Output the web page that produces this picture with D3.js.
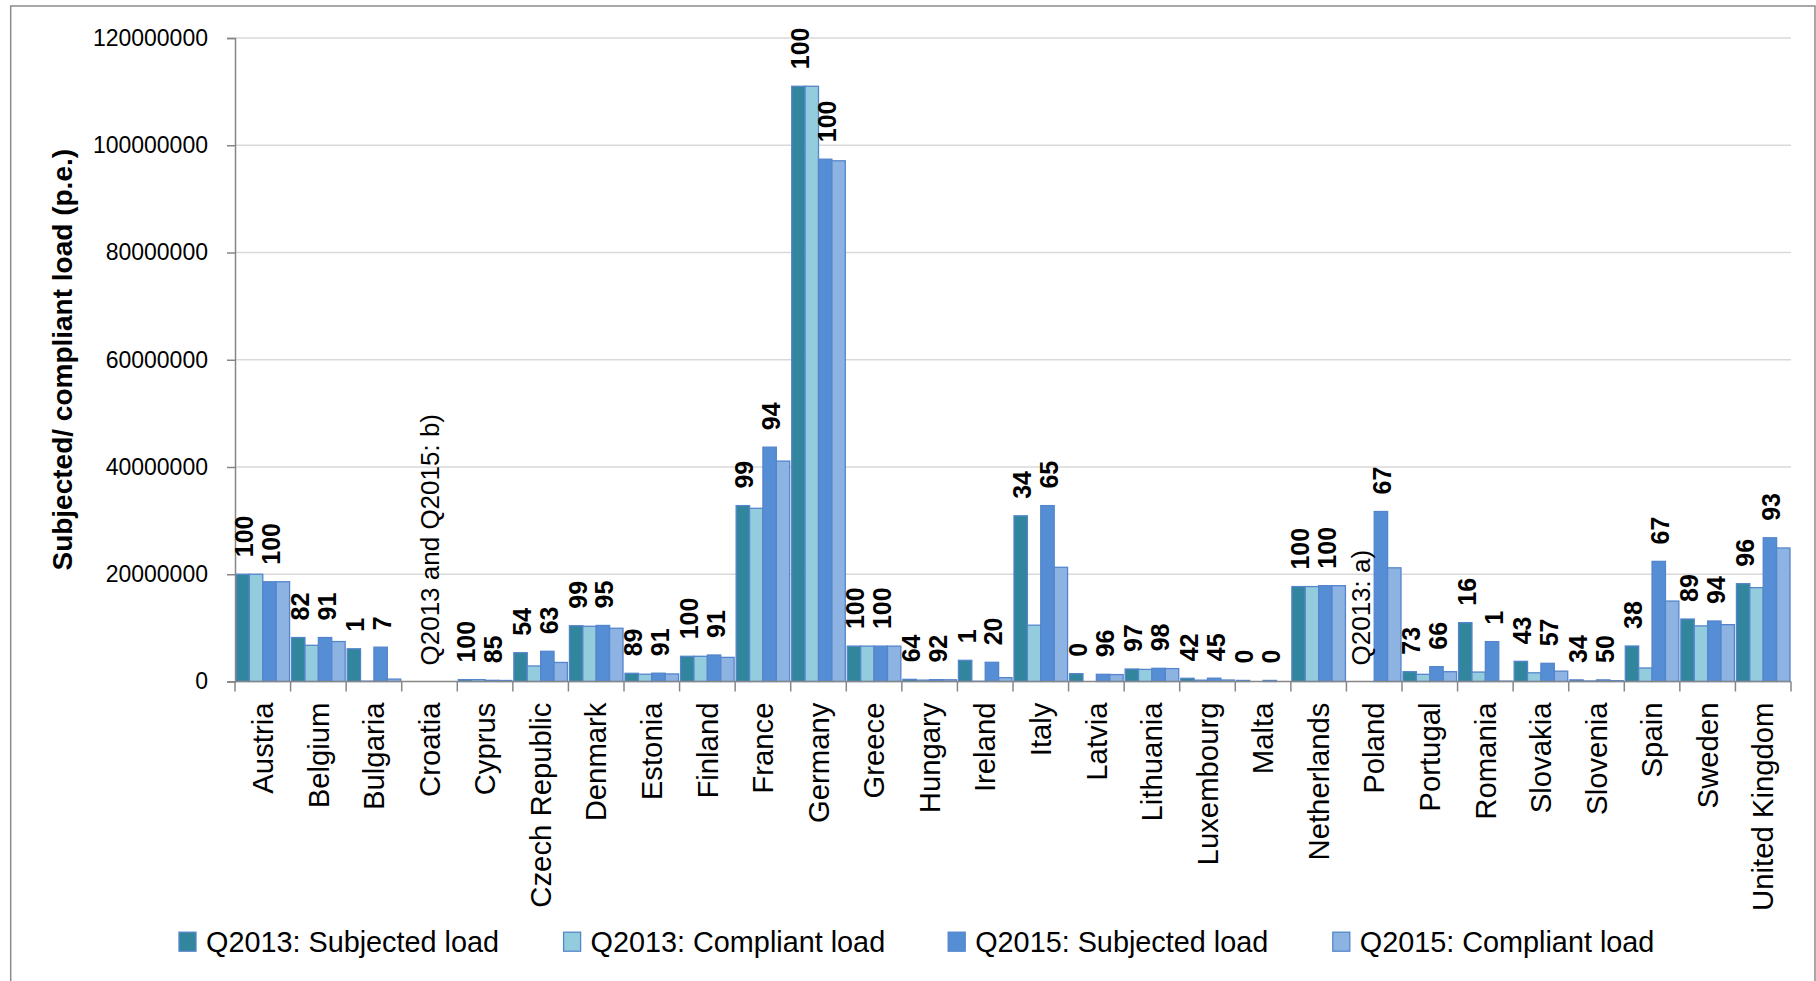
<!DOCTYPE html>
<html>
<head>
<meta charset="utf-8">
<script src="https://cdn.jsdelivr.net/npm/d3@7"></script>
<style>
  html, body { margin: 0; padding: 0; background: #fff; }
  svg { display: block; font-family: "Liberation Sans", Arial, sans-serif; }
</style>
</head>
<body>
<svg id="chart" width="1816" height="981"></svg>
<script>
// Member states on the category axis
const countries = ["Austria", "Belgium", "Bulgaria", "Croatia", "Cyprus", "Czech Republic",
  "Denmark", "Estonia", "Finland", "France", "Germany", "Greece", "Hungary", "Ireland",
  "Italy", "Latvia", "Lithuania", "Luxembourg", "Malta", "Netherlands", "Poland",
  "Portugal", "Romania", "Slovakia", "Slovenia", "Spain", "Sweden", "United Kingdom"];

// Loads in p.e. (null = not reported)
const q2013Subjected = [20.0e6, 8.2e6, 6.1e6, null, 0.35e6, 5.37e6, 10.4e6, 1.53e6, 4.7e6, 32.8e6,
  111.0e6, 6.6e6, 0.4e6, 3.95e6, 30.9e6, 1.46e6, 2.33e6, 0.6e6, 0.2e6, 17.7e6, null,
  1.83e6, 10.97e6, 3.76e6, 0.3e6, 6.62e6, 11.65e6, 18.24e6];
const q2013Compliant = [20.0e6, 6.75e6, 0.06e6, null, 0.35e6, 2.9e6, 10.3e6, 1.36e6, 4.7e6, 32.3e6,
  111.0e6, 6.6e6, 0.26e6, 0.04e6, 10.5e6, 0, 2.26e6, 0.25e6, 0, 17.7e6, null,
  1.34e6, 1.76e6, 1.62e6, 0.1e6, 2.52e6, 10.37e6, 17.5e6];
const q2015Subjected = [18.6e6, 8.2e6, 6.4e6, null, 0.22e6, 5.63e6, 10.45e6, 1.55e6, 4.94e6, 43.7e6,
  97.4e6, 6.6e6, 0.35e6, 3.58e6, 32.8e6, 1.34e6, 2.46e6, 0.62e6, 0.2e6, 17.87e6, 31.7e6,
  2.77e6, 7.43e6, 3.39e6, 0.3e6, 22.4e6, 11.28e6, 26.8e6];
const q2015Compliant = [18.6e6, 7.45e6, 0.45e6, null, 0.19e6, 3.55e6, 9.93e6, 1.41e6, 4.5e6, 41.1e6,
  97.1e6, 6.6e6, 0.32e6, 0.72e6, 21.3e6, 1.29e6, 2.41e6, 0.28e6, 0, 17.87e6, 21.2e6,
  1.83e6, 0.07e6, 1.93e6, 0.15e6, 15.0e6, 10.6e6, 24.9e6];

// Compliance rates (%) shown above the subjected-load bars
const pct2013 = [100, 82, 1, null, 100, 54, 99, 89, 100, 99, 100, 100, 64, 1, 34, 0, 97, 42, 0, 100, null,
  73, 16, 43, 34, 38, 89, 96];
const pct2015 = [100, 91, 7, null, 85, 63, 95, 91, 91, 94, 100, 100, 92, 20, 65, 96, 98, 45, 0, 100, 67,
  66, 1, 57, 50, 67, 94, 93];

// Notes for missing data
const notes = [
  { country: "Croatia", text: "Q2013 and Q2015: b)", at: "center" },
  { country: "Poland", text: "Q2013: a)", at: "q13c" }
];

const seriesNames = ["Q2013: Subjected load", "Q2013: Compliant load", "Q2015: Subjected load", "Q2015: Compliant load"];
const seriesKeys = ["q13s", "q13c", "q15s", "q15c"];
const seriesColors = ["#31859c", "#93cddd", "#558ed5", "#8db3e2"];
const yTicks = [0, 20000000, 40000000, 60000000, 80000000, 100000000, 120000000];

const seriesData = [q2013Subjected, q2013Compliant, q2015Subjected, q2015Compliant];

const svg = d3.select("#chart");
const W = 1816, H = 981;
const plot = { left: 235, right: 1791, top: 38, bottom: 681.5 };
const barStroke = "#5585cc";
const axisGray = "#868686";

svg.append("rect").attr("width", W).attr("height", H).attr("fill", "#fff");
// outer chart frame
svg.append("rect")
  .attr("x", 10.7).attr("y", 6).attr("width", 1804.3).attr("height", 1000)
  .attr("fill", "none").attr("stroke", "#8c8c8c").attr("stroke-width", 1.5);

const x = d3.scaleBand().domain(countries).range([plot.left, plot.right]).padding(0);
const xSub = d3.scaleBand().domain(seriesKeys)
  .range([1, x.bandwidth() - 1]).padding(0);
const y = d3.scaleLinear().domain([0, 120000000]).range([plot.bottom, plot.top]);

// gridlines
svg.append("g").selectAll("line").data(yTicks.filter(d => d > 0)).join("line")
  .attr("x1", plot.left).attr("x2", plot.right)
  .attr("y1", d => y(d)).attr("y2", d => y(d))
  .attr("stroke", "#d9d9d9").attr("stroke-width", 1.5);

// bars
const groups = svg.append("g").selectAll("g").data(countries).join("g")
  .attr("transform", d => `translate(${x(d)},0)`);
groups.selectAll("rect")
  .data((c, i) => seriesKeys.map((k, j) => ({ k, j, v: seriesData[j][i] })).filter(d => d.v != null && d.v > 0))
  .join("rect")
  .attr("x", d => xSub(d.k))
  .attr("width", xSub.bandwidth())
  .attr("y", d => y(d.v))
  .attr("height", d => Math.max(0, y(0) - y(d.v)))
  .attr("fill", d => seriesColors[d.j])
  .attr("stroke", barStroke).attr("stroke-width", 1.3);

// y axis
const yAxis = svg.append("g")
  .attr("transform", `translate(${plot.left},0)`)
  .call(d3.axisLeft(y).tickValues(yTicks).tickFormat(d3.format("d")).tickSize(8).tickPadding(19));
yAxis.select(".domain").attr("stroke", axisGray).attr("stroke-width", 1.5);
yAxis.selectAll(".tick line").attr("stroke", axisGray).attr("stroke-width", 1.5);
yAxis.selectAll(".tick text").attr("font-size", 23).attr("fill", "#000")
  .attr("font-family", "Liberation Sans, Arial, sans-serif");

// x axis line and boundary ticks
const xAxis = svg.append("g");
xAxis.append("line")
  .attr("x1", plot.left).attr("x2", plot.right)
  .attr("y1", plot.bottom).attr("y2", plot.bottom)
  .attr("stroke", axisGray).attr("stroke-width", 1.5);
const bounds = countries.map(c => x(c)).concat([plot.right]);
xAxis.selectAll("line.tk").data(bounds).join("line").attr("class", "tk")
  .attr("x1", d => d).attr("x2", d => d)
  .attr("y1", plot.bottom).attr("y2", plot.bottom + 10)
  .attr("stroke", axisGray).attr("stroke-width", 1.5);
xAxis.selectAll("text").data(countries).join("text")
  .attr("transform", d => `translate(${x(d) + x.bandwidth() / 2},${plot.bottom + 21}) rotate(-90)`)
  .attr("text-anchor", "end").attr("dy", "0.35em")
  .attr("font-size", 29.3).attr("fill", "#000")
  .text(d => d);

// compliance labels above subjected bars
const labels = [];
countries.forEach((c, i) => {
  if (pct2013[i] != null) labels.push({ c, k: "q13s", v: q2013Subjected[i] || 0, t: pct2013[i] });
  if (pct2015[i] != null) labels.push({ c, k: "q15s", v: q2015Subjected[i] || 0, t: pct2015[i] });
});
svg.append("g").selectAll("text").data(labels).join("text")
  .attr("transform", d => `translate(${x(d.c) + xSub(d.k) + xSub.bandwidth() / 2},${y(d.v) - 17}) rotate(-90)`)
  .attr("text-anchor", "start").attr("dy", "0.42em")
  .attr("font-size", 25).attr("font-weight", "bold").attr("fill", "#000")
  .text(d => d.t);

// missing-data notes
svg.append("g").selectAll("text").data(notes).join("text")
  .attr("transform", d => {
    const cx = d.at === "center" ? x(d.country) + x.bandwidth() / 2 : x(d.country) + xSub("q13c");
    return `translate(${cx},${y(0) - 16}) rotate(-90)`;
  })
  .attr("text-anchor", "start").attr("dy", "0.35em")
  .attr("font-size", 26).attr("fill", "#000")
  .text(d => d.text);

// y axis title
svg.append("text")
  .attr("transform", `translate(62,${(plot.top + plot.bottom) / 2}) rotate(-90)`)
  .attr("text-anchor", "middle").attr("dy", "0.35em")
  .attr("font-size", 28).attr("font-weight", "bold").attr("fill", "#000")
  .text("Subjected/ compliant load (p.e.)");

// legend
const legendX0 = 179, legendStep = 384.6, legendY = 941.7;
const legend = svg.append("g").selectAll("g").data(seriesNames).join("g")
  .attr("transform", (d, i) => `translate(${legendX0 + i * legendStep},${legendY})`);
legend.append("rect")
  .attr("x", 0).attr("y", -9.5).attr("width", 17).attr("height", 19)
  .attr("fill", (d, i) => seriesColors[i]).attr("stroke", barStroke).attr("stroke-width", 1.3);
legend.append("text")
  .attr("x", 27).attr("dy", "0.35em")
  .attr("font-size", 28.8).attr("fill", "#000")
  .text(d => d);
</script>
</body>
</html>
